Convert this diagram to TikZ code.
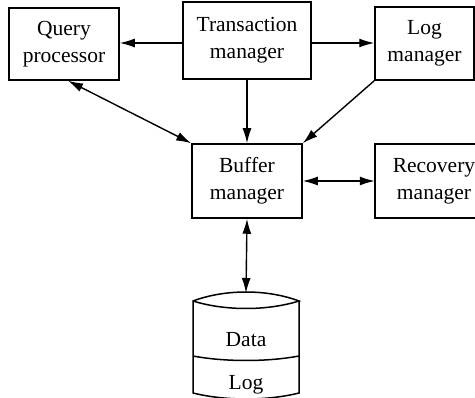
\documentclass[tikz,border=0pt]{standalone}
\usepackage{fontspec}
\setmainfont{Liberation Serif}
\usetikzlibrary{arrows.meta}
\begin{document}
\begin{tikzpicture}[x=1pt,y=-1pt,
  box/.style={draw,line width=1.5pt,align=center,inner sep=0pt,
    font=\fontsize{21.5}{27}\selectfont},
  conn/.style={line width=1.4pt,-{Latex[length=15pt,width=9pt]}},
  dconn/.style={line width=1.4pt,{Latex[length=15pt,width=9pt]}-{Latex[length=15pt,width=9pt]}},
  lbl/.style={font=\fontsize{21.5}{27}\selectfont,inner sep=0pt}]
\useasboundingbox (0,0) rectangle (475,398);
\clip (0,0) rectangle (475,398);
\node[box,minimum width=110pt,minimum height=72pt] (qp) at (64,44) {Query\\processor};
\node[box,minimum width=128pt,minimum height=77pt] (tm) at (247,40.5) {Transaction\\manager};
\node[box,minimum width=99pt,minimum height=73pt] (lm) at (424.5,43.5) {Log\\manager};
\node[box,minimum width=110pt,minimum height=74pt] (bm) at (247,181) {Buffer\\manager};
\node[minimum width=140pt,minimum height=74pt,inner sep=0pt] (rm) at (445,181) {};
\draw[line width=1.5pt] (rm.north east) -- (rm.north west) -- (rm.south west) -- (rm.south east);
\node[lbl,align=center] (rmt) at (434,181) {Recovery\\manager};
% cylinder
\draw[line width=1.5pt] (193,301) .. controls (225,289) and (267,289) .. (299,301)
  .. controls (267,311) and (225,311) .. (193,301) -- (193,393)
  .. controls (225,401) and (267,401) .. (299,393) -- (299,301);
\draw[line width=1.5pt] (193,356) .. controls (225,362) and (267,362) .. (299,356);
\coordinate (cyltop) at (246,293);
\node[lbl] (data) at (246,340) {Data};
\node[lbl] (log) at (246,385) {Log};
% connectors
\draw[conn] (tm.west |- 0,43) -- (qp.east |- 0,43);
\draw[conn] (tm.east |- 0,43) -- (lm.west |- 0,43);
\draw[conn] (tm.south) -- (bm.north);
\draw[dconn] ([xshift=4pt]qp.south) -- (bm.north west);
\draw[conn] (lm.south west) -- (bm.north east);
\draw[dconn] (bm.east) -- (rm.west);
\draw[dconn] (bm.south) -- (cyltop);
\end{tikzpicture}
\end{document}
